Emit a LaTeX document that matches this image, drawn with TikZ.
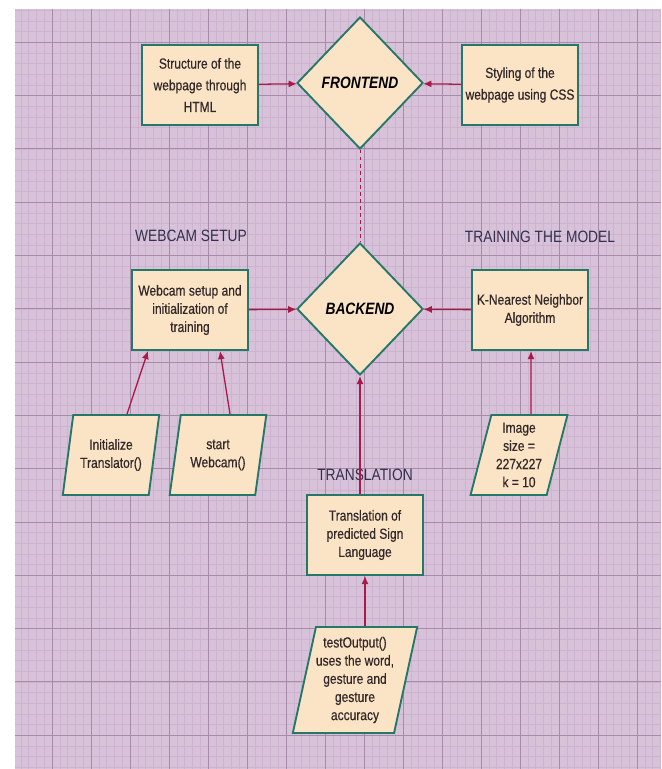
\documentclass[tikz,border=0pt]{standalone}
\usepackage{fontspec}
\setmainfont{Liberation Sans}[FakeStretch=0.84]
\newfontfamily\boxfont{Liberation Sans}[FakeStretch=0.82, FakeBold=0.5]
\usetikzlibrary{shapes.geometric,arrows.meta}

\definecolor{gridbg}{RGB}{216,194,218}
\definecolor{gridminor}{RGB}{205,179,207}
\definecolor{gridmajor}{RGB}{168,138,170}
\definecolor{boxfill}{RGB}{251,227,198}
\definecolor{boxedge}{RGB}{36,120,104}
\definecolor{linkred}{RGB}{168,26,72}
\definecolor{textdark}{RGB}{50,40,40}
\definecolor{labeltext}{RGB}{50,48,76}

\tikzset{
	procbox/.style={draw=boxedge, line width=1.6pt, fill=boxfill, align=center,
		minimum width=3.48cm, minimum height=2.4cm, inner sep=1pt, text=textdark,
		font=\boxfont\fontsize{12.5}{15.5}\selectfont},
	widebox/.style={procbox, font=\boxfont\fontsize{12.5}{18.5}\selectfont},
	decision/.style={diamond, draw=boxedge, line width=1.6pt, fill=boxfill,
		minimum width=3.78cm, minimum height=3.96cm, inner sep=0pt,
		font=\fontsize{14}{16}\selectfont\bfseries\itshape},
	inputbox/.style={trapezium, trapezium left angle=75, trapezium right angle=105,
		trapezium stretches=true, draw=boxedge, line width=1.6pt, fill=boxfill,
		align=center, inner sep=0pt, text=textdark, minimum height=2.4cm,
		minimum width=2.91cm, font=\boxfont\fontsize{12.5}{15.5}\selectfont},
	grouplabel/.style={text=labeltext, font=\fontsize{14}{16}\selectfont},
	link/.style={draw=linkred, line width=1.1pt, -{Latex[length=7pt,width=6pt]}},
}

\begin{document}
\begin{tikzpicture}[x=0.03cm, y=-0.03cm]
	\useasboundingbox (0,0) rectangle (661,769);

	% grid paper
	\fill[gridbg] (15,9) rectangle (661,769);
	\begin{scope}
		\clip (15,9) rectangle (661,769);
		\foreach \i in {0,...,86}
			\draw[gridminor, line width=0.4pt] ({13+7.8*\i},9) -- ++(0,760);
		\foreach \j in {0,...,75}
			\draw[gridminor, line width=0.4pt] (15,{-11+10.66*\j}) -- ++(646,0);
		\foreach \i in {0,...,17}
			\draw[gridmajor, line width=0.8pt] ({13+39*\i},9) -- ++(0,760);
		\foreach \j in {0,...,15}
			\draw[gridmajor, line width=0.8pt] (15,{-11+53.3*\j}) -- ++(646,0);
	\end{scope}

	% frontend
	\node[widebox] (html) at (200,85) {Structure of the\\webpage through\\HTML};
	\node[decision] (front) at (360,83) {FRONTEND};
	\node[widebox] (css) at (520,85) {Styling of the\\webpage using CSS};

	% backend
	\node[grouplabel] (lblcam) at (191,236) {WEBCAM SETUP};
	\node[grouplabel] (lbltrain) at (540,237) {TRAINING THE MODEL};
	\node[procbox] (webcam) at (190,310) {Webcam setup and\\initialization of\\training};
	\node[decision] (back) at (360,309) {BACKEND};
	\node[procbox] (knn) at (530,310) {K-Nearest Neighbor\\Algorithm};

	% inputs
	\node[inputbox] (init) at (111,455) {Initialize\\Translator()};
	\node[inputbox] (start) at (218,455) {start\\Webcam()};
	\node[inputbox] (image) at (519,455) {Image\\size =\\227x227\\k = 10};

	% translation
	\node[grouplabel] (lbltrans) at (365,475) {TRANSLATION};
	\node[procbox] (trans) at (365,535) {Translation of\\predicted Sign\\Language};
	\node[inputbox, minimum width=3.51cm, minimum height=3.18cm] (test) at (355,680)
		{testOutput()\\uses the word,\\gesture and\\gesture\\accuracy};

	\draw[link] (html) -- (front);
	\draw[link] (css) -- (front);
	\draw[linkred, line width=0.8pt, dashed] (front.south) -- (back.north);
	\draw[link] (webcam) -- (back);
	\draw[link] (knn) -- (back);
	\draw[link] ([xshift=0.48cm]init.north) -- ([xshift=-1.26cm]webcam.south);
	\draw[link] ([xshift=0.36cm]start.north) -- ([xshift=0.9cm]webcam.south);
	\draw[link] ([xshift=0.36cm]image.north) -- ([xshift=0.03cm]knn.south);
	\draw[link] (back.south |- trans.north) -- (back.south);
	\draw[link] (trans.south |- test.north) -- (trans.south);
\end{tikzpicture}
\end{document}
